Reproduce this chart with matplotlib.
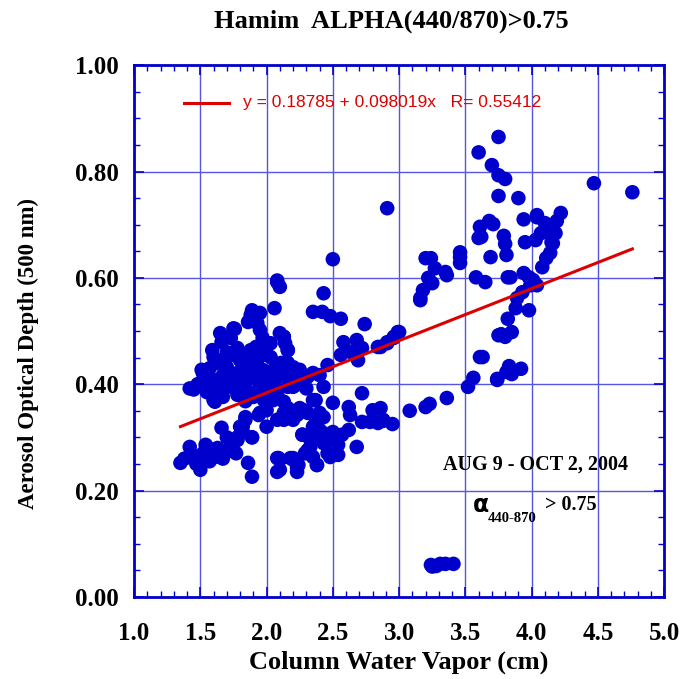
import numpy as np
import matplotlib
matplotlib.use("Agg")
import matplotlib.pyplot as plt
from matplotlib.ticker import MultipleLocator

# =============================================================================
# Data (column water vapour cm, AOD 500 nm)
# =============================================================================
cwv_low = [1.35, 1.42, 1.50, 1.54, 1.61, 1.66, 1.71, 1.78, 1.80, 1.84, 1.86, 1.89,
           1.89, 1.94, 2.00, 2.08, 2.08, 2.18, 2.05, 1.61, 1.45, 1.52, 1.57, 1.63,
           1.67, 1.74, 1.77, 1.38, 1.47, 1.56, 1.70, 1.82]
aod_low = [0.252, 0.282, 0.239, 0.286, 0.263, 0.318, 0.276, 0.300, 0.320, 0.333, 0.252, 0.226,
           0.300, 0.342, 0.351, 0.261, 0.235, 0.261, 0.370, 0.367, 0.265, 0.270, 0.255, 0.280,
           0.260, 0.290, 0.270, 0.260, 0.250, 0.280, 0.300, 0.310]

cwv_mid = [2.43, 2.35, 2.42, 2.48, 2.56, 2.74, 2.58, 2.68, 2.72, 2.63, 2.56, 2.69,
           2.84, 2.91, 2.96, 2.99, 2.46, 2.16, 2.13, 2.72, 2.50, 2.62, 2.63, 2.80,
           2.86, 2.72, 2.78, 2.84, 2.88, 2.95, 3.08, 2.37, 2.43, 2.35, 2.27, 2.35,
           2.43, 2.50, 2.57, 2.62, 2.47, 2.54, 2.68, 2.33, 2.29, 2.20, 2.24, 2.23,
           2.38, 2.46, 2.48, 2.54, 2.10, 2.10, 2.50, 2.08, 2.86, 2.88]
aod_mid = [0.571, 0.536, 0.536, 0.528, 0.523, 0.513, 0.479, 0.483, 0.468, 0.461, 0.455, 0.445,
           0.470, 0.479, 0.487, 0.498, 0.436, 0.464, 0.489, 0.383, 0.365, 0.357, 0.342, 0.351,
           0.355, 0.329, 0.329, 0.327, 0.333, 0.325, 0.350, 0.370, 0.338, 0.320, 0.305, 0.300,
           0.308, 0.310, 0.305, 0.314, 0.295, 0.286, 0.282, 0.282, 0.270, 0.261, 0.248, 0.235,
           0.248, 0.270, 0.263, 0.267, 0.239, 0.258, 0.635, 0.595, 0.470, 0.331]

cwv_high = [3.75, 3.60, 3.70, 3.75, 3.80, 3.75, 3.90, 2.91, 3.94, 4.04, 3.68, 3.71,
            3.61, 3.60, 3.62, 3.79, 3.80, 3.95, 4.03, 3.69, 3.81, 3.20, 3.24, 3.27,
            3.35, 3.36, 3.46, 3.46, 3.46, 3.22, 3.25, 3.18, 3.16, 3.58, 3.65, 3.82,
            3.94, 3.98, 4.01, 4.04, 3.99, 3.93, 3.89, 3.88, 3.82, 3.98, 4.47, 4.76,
            4.04, 4.10, 4.22, 4.19, 4.07, 4.14, 4.18, 4.15, 4.16, 4.14, 4.11, 4.08,
            3.84, 3.85, 3.77, 3.80, 3.63, 3.83, 3.81, 3.85, 3.92, 3.74, 3.16, 3.00,
            2.96, 2.91, 3.75, 3.61, 3.56, 3.52, 3.74, 3.36, 3.23, 3.20]
aod_high = [0.865, 0.836, 0.812, 0.793, 0.786, 0.754, 0.750, 0.731, 0.710, 0.714, 0.707, 0.701,
            0.696, 0.675, 0.677, 0.679, 0.664, 0.667, 0.671, 0.639, 0.643, 0.637, 0.637, 0.618,
            0.611, 0.605, 0.648, 0.639, 0.628, 0.600, 0.590, 0.577, 0.562, 0.601, 0.592, 0.601,
            0.609, 0.601, 0.596, 0.586, 0.586, 0.573, 0.562, 0.543, 0.523, 0.539, 0.778, 0.761,
            0.718, 0.703, 0.722, 0.707, 0.684, 0.684, 0.684, 0.667, 0.665, 0.647, 0.637, 0.620,
            0.601, 0.498, 0.494, 0.489, 0.451, 0.434, 0.423, 0.419, 0.429, 0.410, 0.558, 0.498,
            0.489, 0.477, 0.492, 0.451, 0.412, 0.395, 0.408, 0.374, 0.363, 0.357]

cwv_zero = [3.24, 3.25, 3.31, 3.35, 3.41, 3.28]
aod_zero = [0.060, 0.057, 0.062, 0.062, 0.062, 0.058]

cwv_dense = [2.08, 2.10, 2.06, 1.90, 1.88, 1.91, 1.86, 1.95, 1.93, 1.65, 1.66, 1.76,
             1.73, 1.95, 1.97, 2.13, 2.00, 1.59, 1.60, 1.78, 1.88, 2.16, 1.67, 1.51,
             1.57, 1.70, 1.80, 1.93, 2.03, 2.16, 2.09, 1.54, 1.60, 1.67, 1.78, 1.88,
             1.97, 1.55, 1.63, 1.73, 1.82, 1.84, 1.85, 1.95, 2.05, 2.16, 2.20, 1.60,
             1.67, 1.78, 1.90, 2.00, 2.08, 2.13, 2.16, 2.20, 1.84, 1.95, 1.89, 1.75,
             2.10, 2.14, 2.03, 2.00, 2.18, 2.25, 2.31, 2.35, 2.40, 2.43, 2.16, 2.23,
             2.14, 2.20, 2.16, 2.13, 2.35, 2.28, 2.40, 2.20, 2.23, 1.45, 1.48, 1.52,
             1.72, 1.83, 1.99, 2.07, 1.69, 1.81, 1.92, 2.02, 1.62, 1.75, 1.86, 1.98,
             2.04, 2.11, 1.70, 1.92, 2.06, 1.58, 1.84, 2.24, 2.30, 1.42, 1.98, 1.76]
aod_dense = [0.592, 0.583, 0.543, 0.536, 0.530, 0.524, 0.517, 0.534, 0.515, 0.496, 0.479, 0.504,
             0.487, 0.502, 0.487, 0.489, 0.470, 0.464, 0.451, 0.468, 0.464, 0.464, 0.445, 0.427,
             0.430, 0.432, 0.445, 0.445, 0.451, 0.440, 0.430, 0.412, 0.408, 0.417, 0.421, 0.427,
             0.427, 0.385, 0.389, 0.395, 0.404, 0.408, 0.389, 0.395, 0.408, 0.414, 0.395, 0.370,
             0.376, 0.380, 0.376, 0.383, 0.380, 0.367, 0.355, 0.346, 0.338, 0.346, 0.539, 0.505,
             0.496, 0.477, 0.477, 0.455, 0.421, 0.427, 0.414, 0.421, 0.417, 0.395, 0.395, 0.408,
             0.440, 0.432, 0.351, 0.333, 0.370, 0.351, 0.346, 0.333, 0.342, 0.390, 0.400, 0.420,
             0.415, 0.435, 0.420, 0.410, 0.400, 0.455, 0.470, 0.400, 0.440, 0.455, 0.440, 0.460,
             0.425, 0.440, 0.460, 0.410, 0.395, 0.392, 0.368, 0.400, 0.392, 0.392, 0.370, 0.412]

cwv_extra = [1.70, 1.78, 1.82, 1.89, 2.00, 2.08, 2.13, 2.18, 2.25, 2.31, 2.37, 2.27,
             2.09, 2.20, 2.23, 2.31, 2.38, 2.40, 2.33, 2.43, 2.35]
aod_extra = [0.273, 0.295, 0.320, 0.300, 0.320, 0.333, 0.346, 0.336, 0.355, 0.346, 0.336, 0.305,
             0.261, 0.258, 0.243, 0.276, 0.248, 0.314, 0.295, 0.289, 0.263]

x = np.array(cwv_low + cwv_mid + cwv_high + cwv_zero + cwv_dense + cwv_extra)
y = np.array(aod_low + aod_mid + aod_high + aod_zero + aod_dense + aod_extra)

# fit line as printed on the chart
a0, a1, r = 0.18785, 0.098019, 0.55412

# =============================================================================
# Plot
# =============================================================================
blue = '#0000cc'
serif = ['Liberation Serif', 'DejaVu Serif']
fig = plt.figure(figsize=(6.84, 6.79), dpi=100)
ax = fig.add_axes([0.196, 0.121, 0.775, 0.783])

ax.grid(True, which='major', color='#5555e0', linewidth=1.0, zorder=0)
ax.set_axisbelow(True)
ax.scatter(x, y, s=110, color=blue, edgecolors='none', zorder=3)

xl = np.array([x.min(), x.max()])
ax.plot(xl, a0 + a1 * xl, color='#dd0000', linewidth=2.2, zorder=4)

ax.set_xlim(1.0, 5.0)
ax.set_ylim(0.0, 1.0)
ax.xaxis.set_minor_locator(MultipleLocator(0.1))
ax.yaxis.set_minor_locator(MultipleLocator(0.05))
ax.set_xticks(np.arange(1.0, 5.01, 0.5))
ax.set_xticklabels(['%.1f' % v for v in np.arange(1.0, 5.01, 0.5)])
ax.set_yticks(np.arange(0.0, 1.01, 0.2))
ax.set_yticklabels(['%.2f' % v for v in np.arange(0.0, 1.01, 0.2)])
for lab in ax.get_xticklabels() + ax.get_yticklabels():
    lab.set_fontfamily(serif)
    lab.set_fontweight('bold')
    lab.set_fontsize(18)

ax.tick_params(which='both', direction='in', top=True, right=True, color=blue)
ax.tick_params(which='major', length=7, width=1.2)
ax.tick_params(axis='x', which='major', pad=18)
ax.tick_params(axis='y', which='major', pad=11)
ax.tick_params(which='minor', length=4, width=1.0)
for sp in ax.spines.values():
    sp.set_color(blue)
    sp.set_linewidth(2)

ax.set_xlabel('Column Water Vapor (cm)', fontfamily=serif, fontweight='bold', fontsize=19, labelpad=4)
ax.set_ylabel('Aerosol Optical Depth (500 nm)', fontfamily=serif, fontweight='bold', fontsize=16.5)
ax.yaxis.set_label_coords(-0.18, 0.457)
fig.text(0.572, 0.968, 'Hamim  ALPHA(440/870)>0.75', ha='center', va='center',
         fontfamily=serif, fontweight='bold', fontsize=19)

# legend line + equation
ax.plot([1.38, 1.72], [0.929, 0.929], color='#dd0000', linewidth=2.2, zorder=4)
ax.text(1.82, 0.929, 'y = %.5f + %.6fx   R= %.5f' % (a0, a1, r), color='#dd0000',
        fontfamily=['Liberation Sans', 'DejaVu Sans'], fontsize=12.5, va='center')

ax.text(4.03, 0.248, 'AUG 9 - OCT 2, 2004', fontfamily=serif, fontweight='bold', fontsize=14.5,
        ha='center', va='center')
ax.text(3.55, 0.172, r'$\mathbf{\alpha}$', fontsize=17, va='center')
ax.text(3.67, 0.148, '440-870', fontfamily=serif, fontweight='bold', fontsize=10.5, va='center')
ax.text(4.1, 0.172, '> 0.75', fontfamily=serif, fontweight='bold', fontsize=14.5, va='center')

plt.savefig('out.png', dpi=100)
